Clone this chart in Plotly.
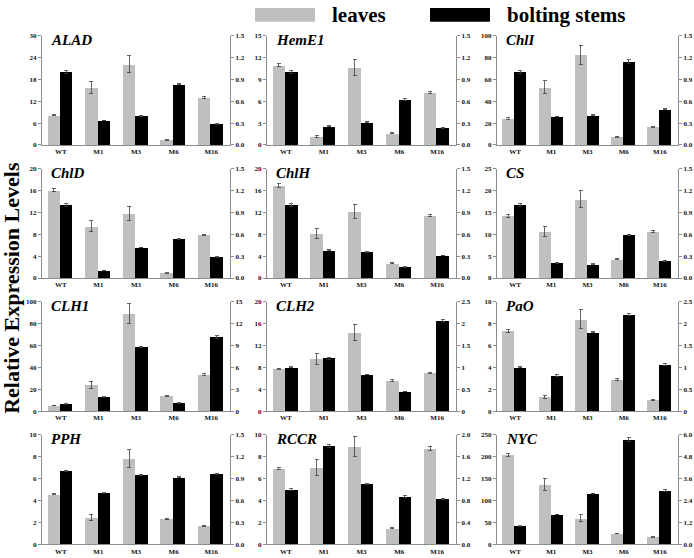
import plotly.graph_objects as go

W, H = 694, 558

categories = ["WT", "M1", "M3", "M6", "M16"]
genes = ["ALAD", "HemE1", "ChlI", "ChlD", "ChlH", "CS",
         "CLH1", "CLH2", "PaO", "PPH", "RCCR", "NYC"]

# leaves (left axis)
leaves = [
    [8.2, 15.7, 22.1, 1.45, 13.0],
    [10.9, 1.13, 10.56, 1.59, 7.16],
    [24.2, 52.9, 82.5, 7.55, 16.6],
    [16.07, 9.43, 11.84, 0.9, 7.85],
    [16.9, 8.1, 12.2, 2.72, 11.36],
    [14.2, 10.7, 18.0, 4.3, 10.7],
    [5.1, 23.9, 89.1, 14.2, 33.5],
    [7.73, 9.49, 14.38, 5.62, 7.0],
    [7.31, 1.3, 8.4, 2.87, 1.0],
    [4.56, 2.45, 7.82, 2.3, 1.69],
    [6.89, 7.0, 8.94, 1.45, 8.76],
    [204, 136.7, 58.9, 24.2, 16.6],
]
leaves_err = [
    [0.2, 1.6, 2.3, 0.1, 0.3],
    [0.2, 0.15, 1.1, 0.08, 0.15],
    [0.8, 5.7, 8.8, 0.3, 0.6],
    [0.3, 1.0, 1.25, 0.05, 0.15],
    [0.3, 0.95, 1.3, 0.08, 0.2],
    [0.3, 1.1, 1.9, 0.1, 0.2],
    [0.3, 3.3, 9.0, 0.5, 0.8],
    [0.1, 0.95, 1.5, 0.15, 0.1],
    [0.15, 0.15, 0.85, 0.1, 0.04],
    [0.06, 0.3, 0.8, 0.06, 0.04],
    [0.1, 0.7, 0.9, 0.03, 0.2],
    [3, 14, 8, 1, 0.8],
]
# bolting stems (right axis)
stems = [
    [1.0, 0.335, 0.40, 0.834, 0.29],
    [1.0, 0.258, 0.313, 0.625, 0.236],
    [1.0, 0.39, 0.408, 1.146, 0.49],
    [1.0, 0.104, 0.42, 0.535, 0.29],
    [1.0, 0.38, 0.36, 0.15, 0.31],
    [1.0, 0.21, 0.19, 0.59, 0.236],
    [1.0, 1.95, 8.84, 1.09, 10.15],
    [1.0, 1.21, 0.83, 0.45, 2.07],
    [1.0, 0.81, 1.8, 2.2, 1.06],
    [1.0, 0.70, 0.95, 0.915, 0.965],
    [1.0, 1.79, 1.1, 0.87, 0.83],
    [1.0, 1.63, 2.77, 5.73, 2.94],
]
stems_err = [
    [0.015, 0.005, 0.005, 0.01, 0.005],
    [0.02, 0.005, 0.01, 0.01, 0.005],
    [0.02, 0.005, 0.005, 0.025, 0.008],
    [0.015, 0.003, 0.005, 0.008, 0.005],
    [0.02, 0.005, 0.004, 0.003, 0.004],
    [0.015, 0.005, 0.004, 0.008, 0.005],
    [0.03, 0.04, 0.08, 0.03, 0.15],
    [0.01, 0.02, 0.005, 0.005, 0.02],
    [0.01, 0.015, 0.01, 0.025, 0.02],
    [0.01, 0.008, 0.008, 0.008, 0.01],
    [0.015, 0.03, 0.008, 0.012, 0.01],
    [0.02, 0.02, 0.02, 0.1, 0.04],
]

left_max = [30, 15, 100, 20, 20, 25, 100, 20, 10, 10, 10, 250]
left_dtick = [6, 3, 20, 4, 4, 5, 20, 4, 2, 2, 2, 50]
right_max = [1.5, 1.5, 1.5, 1.5, 1.5, 1.5, 15, 2.5, 2.5, 1.5, 2.0, 6.0]
right_dtick = [0.3, 0.3, 0.3, 0.3, 0.3, 0.3, 3, 0.5, 0.5, 0.3, 0.4, 1.2]
right_fmt = [".1f", ".1f", ".1f", ".1f", ".1f", ".1f", "d", "", "", ".1f", ".1f", ".1f"]

# layout geometry (pixels)
col_left = [42, 267, 497]
col_right = [230, 456, 678]
row_top = [32, 167, 302, 437]
row_bot = [143, 278, 413, 548]

GRAY = "#BFBFBF"
AXC = "#8C8C8C"
FONT = "Liberation Serif"
tickfont = dict(family=FONT, size=7, color="#111111", weight="bold")

fig = go.Figure()
layout = dict(
    width=W, height=H,
    margin=dict(l=0, r=0, t=0, b=0),
    paper_bgcolor="white", plot_bgcolor="white",
    showlegend=False, bargap=0,
    annotations=[], shapes=[],
)

xpos = list(range(len(categories)))

for i, g in enumerate(genes):
    r, c = divmod(i, 3)
    xn = "x" if i == 0 else f"x{i+1}"
    yl = 2 * i + 1
    yr = 2 * i + 2
    yln = "y" if yl == 1 else f"y{yl}"
    yrn = f"y{yr}"
    xdom = [col_left[c] / W, col_right[c] / W]
    ydom = [1 - row_bot[r] / H, 1 - row_top[r] / H]

    fig.add_trace(go.Bar(
        x=xpos, y=leaves[i], xaxis=xn, yaxis=yln,
        width=0.33, offset=-0.35, marker=dict(color=GRAY, line=dict(width=0)),
        error_y=dict(type="data", array=leaves_err[i], color="#404040", thickness=0.8, width=2),
        name="leaves",
    ))
    fig.add_trace(go.Bar(
        x=xpos, y=stems[i], xaxis=xn, yaxis=yrn,
        width=0.33, offset=-0.02, marker=dict(color="black", line=dict(width=0)),
        error_y=dict(type="data", array=stems_err[i], color="#404040", thickness=0.8, width=2),
        name="bolting stems",
    ))

    xkey = "xaxis" if i == 0 else f"xaxis{i+1}"
    layout[xkey] = dict(
        domain=xdom, anchor=yln, range=[-0.5, 4.5],
        tickmode="array", tickvals=xpos, ticktext=categories,
        showline=True, linecolor=AXC, linewidth=1, ticks="",
        tickfont=tickfont, showgrid=False, zeroline=False, fixedrange=True,
    )
    ylkey = "yaxis" if yl == 1 else f"yaxis{yl}"
    layout[ylkey] = dict(
        domain=ydom, anchor=xn, range=[0, left_max[i]], dtick=left_dtick[i], tick0=0,
        showline=True, linecolor=AXC, linewidth=1, ticks="outside", ticklen=3,
        tickcolor=AXC, tickfont=tickfont, showgrid=False, zeroline=False, fixedrange=True,
    )
    layout[f"yaxis{yr}"] = dict(
        overlaying=yln, side="right", anchor=xn, range=[0, right_max[i]],
        dtick=right_dtick[i], tick0=0, tickformat=right_fmt[i],
        showline=True, linecolor=AXC, linewidth=1, ticks="outside", ticklen=3,
        tickcolor=AXC, tickfont=tickfont, showgrid=False, zeroline=False, fixedrange=True,
    )
    layout["annotations"].append(dict(
        xref="paper", yref="paper",
        x=(col_left[c] + 7) / W, y=1 - (row_top[r] - 6) / H,
        xanchor="left", yanchor="top", showarrow=False,
        text=f"<b><i>{g}</i></b>",
        font=dict(family=FONT, size=15, color="black"),
    ))

# y title
layout["annotations"].append(dict(
    xref="paper", yref="paper", x=12 / W, y=1 - 288 / H,
    xanchor="center", yanchor="middle", textangle=-90, showarrow=False,
    text="<b>Relative Expression Levels</b>",
    font=dict(family=FONT, size=22, color="black"),
))

# legend
legend_items = [("leaves", GRAY, 255, 315, 330), ("bolting stems", "black", 430, 490, 505)]
for label, col, x0, x1, tx in legend_items:
    layout["shapes"].append(dict(
        type="rect", xref="paper", yref="paper",
        x0=x0 / W, x1=x1 / W, y0=1 - 18 / H, y1=1 - 4 / H,
        fillcolor=col, line=dict(width=0),
    ))
    layout["annotations"].append(dict(
        xref="paper", yref="paper", x=tx / W, y=1 - 11 / H,
        xanchor="left", yanchor="middle", showarrow=False,
        text=f"<b>{label}</b>",
        font=dict(family=FONT, size=21, color="black"),
    ))

fig.update_layout(**layout)
fig.write_html("out.html", config={"displayModeBar": False},
               post_script="document.body.style.margin='0';")
